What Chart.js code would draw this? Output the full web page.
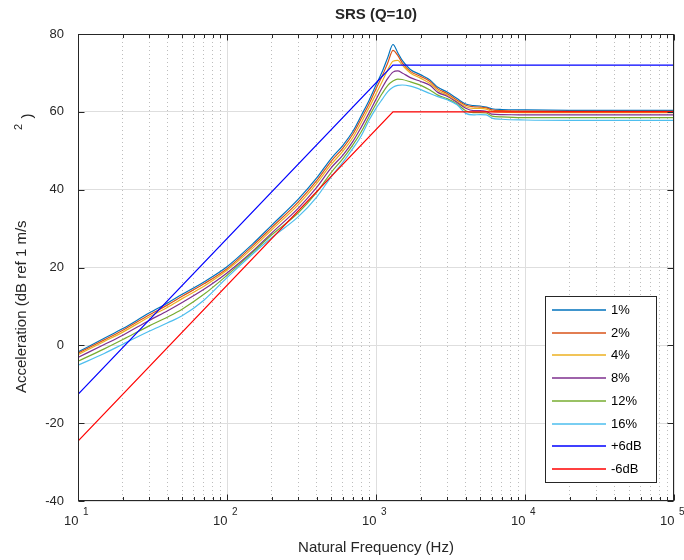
<!DOCTYPE html>
<html lang="en">
  <head>
    <meta charset="UTF-8" />
    <title>SRS (Q=10)</title>
    <script src="https://cdn.jsdelivr.net/npm/chart.js"></script>
    <style>
      body { margin: 0; background: #fff; }
    </style>
  </head>
  <body>
    <canvas id="srs" width="684" height="560"></canvas>
    <script>
      // natural frequencies (Hz) the SRS curves were read at
      const freqs = [10, 15, 20, 30, 40, 50, 70, 100, 150, 200, 300, 400, 500, 600, 700, 800, 900, 1000,
        1100, 1200, 1300, 1400, 1500, 1700, 2000, 2300, 2600, 3000, 3500, 4000, 4500, 5000, 5500, 6000,
        7000, 10000, 20000, 50000, 100000];

      // acceleration, dB ref 1 m/s^2, one list per damping value
      const srs1 = [-1.7, 1.8, 4.3, 8.3, 10.9, 13.1, 16.3, 20.2, 26.2, 30.9, 37.5, 43.0, 48.0, 51.4, 55.0, 59.2, 63.0, 66.9,
        70.3, 74.0, 77.3, 75.2, 73.2, 70.9, 69.5, 68.2, 66.3, 65.1, 63.4, 62.0, 61.6, 61.5, 61.2, 60.8,
        60.6, 60.5, 60.4, 60.4, 60.4];
      const srs2 = [-2.0, 1.4, 3.9, 7.8, 10.4, 12.6, 15.8, 19.7, 25.7, 30.3, 36.8, 42.3, 47.3, 50.7, 54.3, 58.4, 62.1, 65.9,
        69.2, 72.6, 75.8, 74.5, 72.6, 70.4, 69.1, 67.8, 65.9, 64.7, 63.0, 61.7, 61.3, 61.2, 61.0, 60.5,
        60.3, 60.2, 60.1, 60.1, 60.1];
      const srs4 = [-2.4, 1.0, 3.4, 7.3, 9.8, 12.0, 15.2, 19.3, 25.1, 29.7, 36.1, 41.6, 46.5, 49.9, 53.4, 57.4, 61.1, 64.6,
        67.8, 70.8, 73.0, 73.2, 72.0, 70.0, 68.6, 67.3, 65.5, 64.3, 62.6, 61.3, 60.9, 60.9, 60.7, 60.1,
        59.9, 59.8, 59.8, 59.8, 59.8];
      const srs8 = [-3.1, 0.2, 2.6, 6.4, 8.9, 11.0, 14.4, 18.6, 24.3, 28.9, 35.2, 40.6, 45.6, 48.9, 52.4, 56.2, 59.8, 63.2,
        66.2, 68.6, 70.2, 70.5, 70.0, 68.8, 67.8, 66.8, 65.0, 64.0, 62.4, 60.9, 60.3, 60.3, 60.1, 59.4,
        59.3, 59.2, 59.2, 59.2, 59.2];
      const srs12 = [-4.1, -0.9, 1.5, 5.0, 7.3, 9.3, 13.1, 18.0, 24.0, 28.4, 34.0, 39.3, 44.4, 48.0, 51.5, 55.0, 58.8, 62.0,
        64.7, 66.8, 67.9, 68.4, 68.3, 67.7, 66.8, 65.6, 64.3, 63.4, 62.0, 60.3, 59.8, 59.8, 59.7, 58.9,
        58.7, 58.5, 58.5, 58.5, 58.5];
      const srs16 = [-5.1, -2.1, 0.3, 3.6, 5.8, 7.6, 11.6, 17.4, 23.6, 27.7, 33.0, 38.1, 43.3, 47.1, 50.6, 54.0, 57.9, 60.9,
        63.2, 65.2, 66.3, 66.8, 66.9, 66.6, 65.7, 64.7, 63.9, 63.1, 61.8, 59.6, 59.2, 59.3, 59.2, 58.4,
        58.1, 57.9, 57.8, 57.8, 57.8];

      // +/- 6 dB tolerance envelope (12 dB/oct ramp then flat)
      const envFreqs = [10, 1300, 100000];
      const plus6dB = [-12.6, 72, 72];
      const minus6dB = [-24.6, 60, 60];

      const seriesLabels = ["1%", "2%", "4%", "8%", "12%", "16%", "+6dB", "-6dB"];
      const seriesColors = ["#0072bd", "#d95319", "#edb120", "#7e2f8e", "#77ac30", "#4dbeee", "#0000ff", "#ff0000"];

      const yTicks = [-40, -20, 0, 20, 40, 60, 80];
      const decades = [10, 100, 1000, 10000, 100000];
      const decadeExps = ["1", "2", "3", "4", "5"];

      const font = '"Liberation Sans", Arial, Helvetica, sans-serif';
      const ink = "#262626";

      // every 1..9 x 10^n position between 10 and 1e5 (grid + tick marks)
      const xGridVals = [];
      decades.forEach((d, i) => {
        if (i === decades.length - 1) { xGridVals.push(d); return; }
        for (let m = 1; m < 10; m++) xGridVals.push(m * d);
      });
      const isDecade = (v) => decades.includes(v);

      const toPts = (xs, ys) => xs.map((x, k) => ({ x: x, y: ys[k] }));
      const srsSets = [srs1, srs2, srs4, srs8, srs12, srs16];
      const datasets = srsSets.map((vals, i) => ({
        label: seriesLabels[i],
        data: toPts(freqs, vals),
        borderColor: seriesColors[i],
        borderWidth: 1.2,
        pointRadius: 0,
        cubicInterpolationMode: "monotone",
        order: 10 - i,
      }));
      datasets.push({ label: seriesLabels[6], data: toPts(envFreqs, plus6dB), borderColor: seriesColors[6],
        borderWidth: 1.2, pointRadius: 0, order: 2 });
      datasets.push({ label: seriesLabels[7], data: toPts(envFreqs, minus6dB), borderColor: seriesColors[7],
        borderWidth: 1.2, pointRadius: 0, order: 1 });

      // box, inward ticks, labels and legend drawn on top, MATLAB style
      const axesDecor = {
        id: "axesDecor",
        afterDraw(chart) {
          const c = chart.ctx;
          const a = chart.chartArea;
          const xs = chart.scales.x;
          const ys = chart.scales.y;
          const L = Math.round(a.left) + 0.5, R = Math.round(a.right) - 0.5;
          const T = Math.round(a.top) + 0.5, B = Math.round(a.bottom) - 0.5;
          c.save();
          c.strokeStyle = ink;
          c.lineWidth = 1;
          c.beginPath();
          xGridVals.forEach((v) => {
            const px = Math.round(xs.getPixelForValue(v)) + 0.5;
            const len = isDecade(v) ? 6 : 3.5;
            c.moveTo(px, B); c.lineTo(px, B - len);
            c.moveTo(px, T); c.lineTo(px, T + len);
          });
          yTicks.forEach((v) => {
            const py = Math.round(ys.getPixelForValue(v)) + 0.5;
            c.moveTo(L, py); c.lineTo(L + 6, py);
            c.moveTo(R, py); c.lineTo(R - 6, py);
          });
          c.stroke();
          c.strokeRect(L, T, R - L, B - T);

          c.fillStyle = ink;
          // y tick labels
          c.font = "13px " + font;
          c.textAlign = "right";
          c.textBaseline = "middle";
          yTicks.forEach((v) => c.fillText(String(v), a.left - 14, ys.getPixelForValue(v)));
          // x tick labels 10^n
          decades.forEach((d, i) => {
            const px = xs.getPixelForValue(d);
            c.font = "13px " + font;
            c.textAlign = "right";
            c.fillText("10", px + 0.5, 521);
            c.font = "10px " + font;
            c.textAlign = "left";
            c.fillText(decadeExps[i], px + 5, 512);
          });

          // titles
          const cx = (a.left + a.right) / 2;
          c.textAlign = "center";
          c.font = "bold 15px " + font;
          c.fillText("SRS (Q=10)", cx, 15);
          c.font = "15px " + font;
          c.fillText("Natural Frequency (Hz)", cx, 548);

          c.save();
          c.translate(22, 393);
          c.rotate(-Math.PI / 2);
          c.textAlign = "left";
          c.fillText("Acceleration (dB ref 1 m/s", 0, 0);
          c.restore();
          c.save();
          c.translate(19, 127);
          c.rotate(-Math.PI / 2);
          c.font = "11px " + font;
          c.textAlign = "center";
          c.fillText("2", 0, 0);
          c.restore();
          c.save();
          c.translate(28, 116);
          c.rotate(-Math.PI / 2);
          c.font = "15px " + font;
          c.textAlign = "center";
          c.fillText(")", 0, 0);
          c.restore();

          // legend
          const lx = 545.5, ly = 296.5, lw = 111, lh = 186;
          c.fillStyle = "#fff";
          c.fillRect(lx, ly, lw, lh);
          c.strokeStyle = ink;
          c.lineWidth = 1;
          c.strokeRect(lx, ly, lw, lh);
          c.font = "13px " + font;
          c.textAlign = "left";
          chart.data.datasets.forEach((ds, i) => {
            const yy = Math.round(310 + i * 22.7);
            c.strokeStyle = ds.borderColor;
            c.lineWidth = 1.6;
            c.beginPath();
            c.moveTo(552, yy);
            c.lineTo(606, yy);
            c.stroke();
            c.fillStyle = "#000";
            c.fillText(ds.label, 611, yy);
          });
          c.restore();
        },
      };

      new Chart(document.getElementById("srs"), {
        type: "line",
        data: { datasets: datasets },
        options: {
          responsive: false,
          devicePixelRatio: 1,
          animation: false,
          layout: { padding: { left: 78, right: 10, top: 34, bottom: 59 } },
          plugins: { legend: { display: false }, tooltip: { enabled: false } },
          scales: {
            x: {
              type: "logarithmic",
              min: 10,
              max: 100000,
              afterBuildTicks: (scale) => {
                scale.ticks = xGridVals.map((v) => ({ value: v }));
              },
              ticks: { display: false },
              grid: {
                drawTicks: false,
                color: (ctx) => (ctx.tick && isDecade(ctx.tick.value) ? "#dedede" : "#bdbdbd"),
              },
              border: {
                display: false,
                dash: (ctx) => (ctx.tick && isDecade(ctx.tick.value) ? [] : [1, 3]),
              },
            },
            y: {
              type: "linear",
              min: -40,
              max: 80,
              ticks: { display: false, stepSize: 20 },
              grid: { drawTicks: false, color: "#dedede" },
              border: { display: false },
            },
          },
        },
        plugins: [axesDecor],
      });
    </script>
  </body>
</html>
